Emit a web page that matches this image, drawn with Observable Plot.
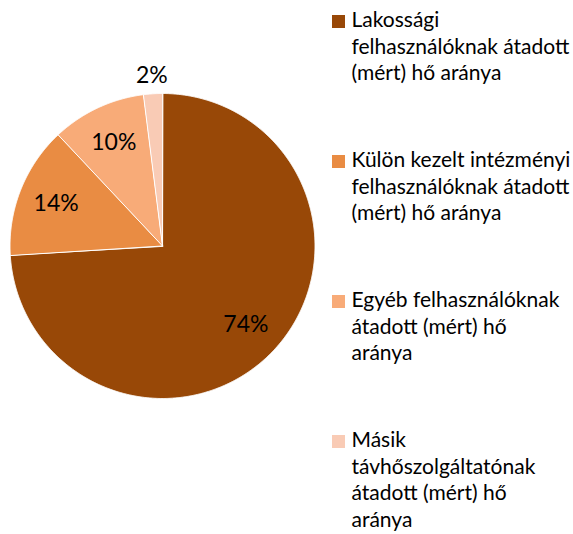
<!DOCTYPE html>
<html>
<head>
<meta charset="utf-8">
<script src="https://cdn.jsdelivr.net/npm/d3@7"></script>
<script src="https://cdn.jsdelivr.net/npm/@observablehq/plot@0.6"></script>
<style>
  html, body { margin: 0; padding: 0; background: #fff; }
  #wrap { position: relative; width: 573px; height: 534px; overflow: hidden; }
  #wrap svg { position: absolute; left: 0; top: 0; }
  #legend { position: absolute; left: 332px; top: 6px; font-family: Lato, "Open Sans", sans-serif; font-size: 21px; line-height: 26.7px; color: #000; }
  .item { position: relative; padding-left: 19.5px; height: 140px; white-space: nowrap; }
  .sw { position: absolute; left: 0; top: 9px; width: 12.5px; height: 12.5px; }
</style>
</head>
<body>
<div id="wrap"></div>
<script>
// ---- data ----
const categories = [
  "Lakossági felhasználóknak átadott (mért) hő aránya",
  "Külön kezelt intézményi felhasználóknak átadott (mért) hő aránya",
  "Egyéb felhasználóknak átadott (mért) hő aránya",
  "Másik távhőszolgáltatónak átadott (mért) hő aránya"
];
const legendLines = [
  ["Lakossági", "felhasználóknak átadott", "(mért) hő aránya"],
  ["Külön kezelt intézményi", "felhasználóknak átadott", "(mért) hő aránya"],
  ["Egyéb felhasználóknak", "átadott (mért) hő", "aránya"],
  ["Másik", "távhőszolgáltatónak", "átadott (mért) hő", "aránya"]
];
const shares = [74, 14, 10, 2];
const pctLabels = ["74%", "14%", "10%", "2%"];
const colors = ["#984807", "#E98C43", "#F8AB78", "#F9CBB5"];

// ---- layout ----
const W = 573, H = 534;
const cx = 162, cy = 245.5, r = 152.5;

const arcs = d3.pie().sort(null).value(d => d.value)(
  categories.map((name, i) => ({name, value: shares[i], label: pctLabels[i]}))
);

// polygon vertices for each slice in unit-circle data space (y up)
const pts = [];
for (const a of arcs) {
  pts.push({name: a.data.name, x: 0, y: 0});
  const n = Math.max(2, Math.ceil((a.endAngle - a.startAngle) / 0.005));
  for (let k = 0; k <= n; k++) {
    const t = a.startAngle + (a.endAngle - a.startAngle) * k / n;
    pts.push({name: a.data.name, x: Math.sin(t), y: Math.cos(t)});
  }
}

// label positions: inside at 0.75 r, small slices outside
const labels = arcs.map(a => {
  const m = (a.startAngle + a.endAngle) / 2;
  const f = a.data.value < 5 ? 1.117 : 0.75;
  return {label: a.data.label, x: f * Math.sin(m), y: f * Math.cos(m)};
});

const chart = Plot.plot({
  width: W, height: H,
  margin: 0,
  style: {background: "transparent"},
  x: {domain: [-1, 1], range: [cx - r, cx + r], axis: null},
  y: {domain: [-1, 1], range: [cy + r, cy - r], axis: null},
  color: {domain: categories, range: colors},
  marks: [
    Plot.line(pts, {x: "x", y: "y", z: "name", fill: "name", stroke: "white", strokeWidth: 1, curve: "linear-closed"}),
    Plot.text(labels, {x: "x", y: "y", text: "label", fill: "#000", fontSize: 23, fontFamily: "Lato, sans-serif"})
  ]
});

const wrap = document.getElementById("wrap");
wrap.appendChild(chart);

const legend = document.createElement("div");
legend.id = "legend";
categories.forEach((name, i) => {
  const item = document.createElement("div");
  item.className = "item";
  const sw = document.createElement("span");
  sw.className = "sw";
  sw.style.background = colors[i];
  item.appendChild(sw);
  legendLines[i].forEach(line => {
    const d = document.createElement("div");
    d.textContent = line;
    item.appendChild(d);
  });
  legend.appendChild(item);
});
wrap.appendChild(legend);
</script>
</body>
</html>
